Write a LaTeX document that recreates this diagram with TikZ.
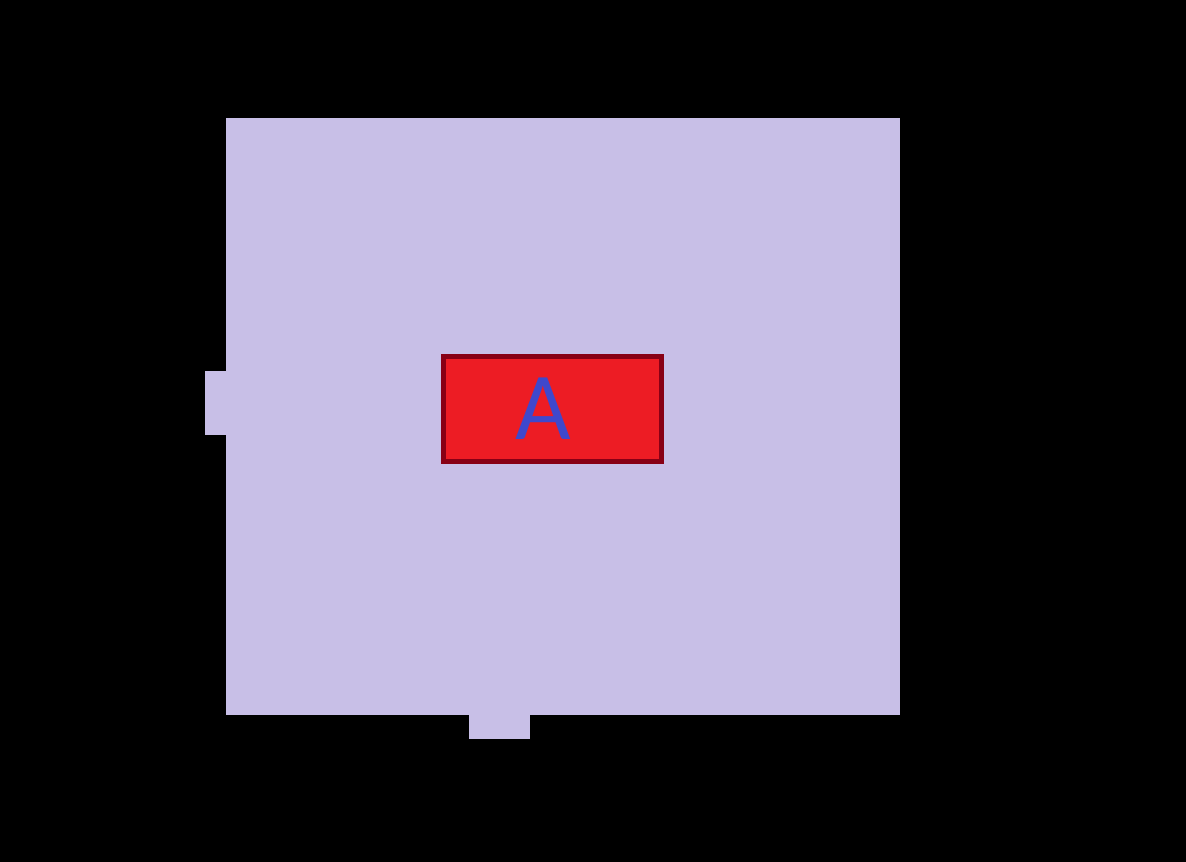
\documentclass[tikz,border=0pt]{standalone}
\usepackage{fontspec}
\setmainfont{Carlito}
\usepackage{tikz}
\usetikzlibrary{positioning}
\definecolor{paintlav}{RGB}{200,191,231}
\definecolor{paintred}{RGB}{237,28,36}
\definecolor{paintdark}{RGB}{136,0,21}
\definecolor{paintblue}{RGB}{63,72,204}
\tikzset{
  panel/.style={fill=paintlav, inner sep=0pt, outer sep=0pt},
  redbox/.style={draw=paintdark, fill=paintred, line width=5pt, inner sep=0pt,
    minimum width=218pt, minimum height=105pt},
  bigletter/.style={text=paintblue, inner sep=0pt, font=\fontsize{96}{96}\selectfont},
}
\begin{document}
\begin{tikzpicture}[x=1pt, y=-1pt]
  \fill[black] (0,0) rectangle (1186,862);
  \useasboundingbox (0,0) rectangle (1186,862);

  % room with its two openings
  \node[panel, minimum width=674pt, minimum height=597pt] (room) at (563,416.5) {};
  \node[panel, minimum width=21pt, minimum height=64pt] (portW) at (215.5,403) {};
  \node[panel, minimum width=61pt, minimum height=24pt] (portS) at (499.5,727) {};

  \node[redbox] (boxA) at (552.5,408.5) {};
  \node[bigletter, anchor=base] (letterA) at (543.5,439) {A};
\end{tikzpicture}
\end{document}
